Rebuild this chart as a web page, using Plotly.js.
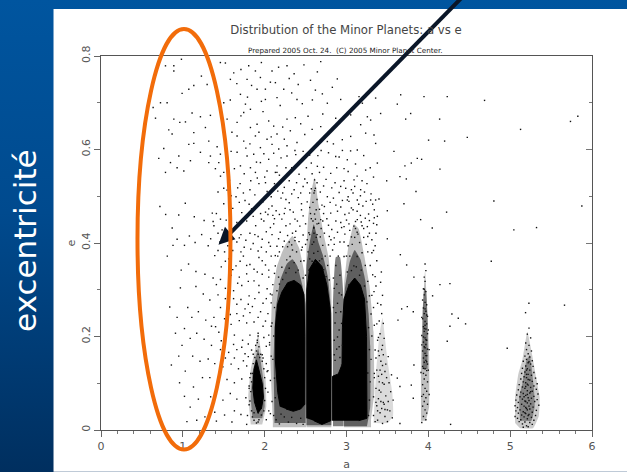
<!DOCTYPE html>
<html><head><meta charset="utf-8">
<script src="https://cdn.plot.ly/plotly-3.0.1.min.js"></script>
<style>
html,body{margin:0;padding:0;width:627px;height:472px;overflow:hidden;background:linear-gradient(180deg,#00559f 0%,#004a8e 45%,#002f5f 100%);}
#chart{width:627px;height:472px;}
</style></head><body><div id="chart"></div>
<script>
// Individually read minor planets, as a,e pairs
const sparsePts=[3.662,.717,3.947,.713,4.231,.713,4.687,.705,3.621,.697,3.784,.677,3.723,.665,4.138,.665,5.127,.643,5.737,.660,5.827,.671,4.476,.626,4.003,.620,4.199,.618,3.580,.596,3.865,.581,3.918,.579,3.792,.571,3.714,.565,4.142,.558,3.653,.542,3.731,.537,3.491,.533,3.849,.510,3.702,.484,4.801,.490,5.876,.479,4.223,.466,3.499,.469,3.906,.450,4.048,.432,5.045,.428,5.322,.433,3.499,.409,3.377,.457,3.356,.492,3.397,.494,3.658,.375,3.735,.353,4.769,.361,3.824,.327,3.426,.338,3.417,.316,4.142,.311,4.264,.313,4.052,.287,3.336,.296,5.229,.271,5.664,.267,5.188,.251,3.743,.264,3.674,.259,3.816,.253,4.288,.248,4.366,.239,3.629,.235,4.455,.227,4.264,.222,4.231,.190,4.964,.175,3.824,.139,3.621,.111,3.792,.096,3.653,.093,3.816,.068,3.653,.014,4.272,.012];
const upperPts=[.983,.793,.890,.779,.788,.779,.890,.768,1.227,.757,1.297,.739,1.134,.737,1.073,.729,.991,.720,.727,.700,.808,.700,.637,.690,.666,.667,.890,.665,.963,.658,1.032,.659,1.113,.678,1.215,.670,1.337,.673,1.276,.647,.828,.642,.869,.633,1.134,.636,.767,.602,.706,.581,.951,.586,1.073,.611,1.134,.613,1.317,.618,1.419,.606,1.459,.590,.849,.572,.930,.561,.788,.551,1.012,.554,1.093,.576,1.317,.572,1.398,.559,1.500,.551,1.215,.594,1.337,.586,1.439,.572,
1.459,.786,1.622,.764,1.805,.779,1.887,.768,2.090,.768,2.273,.779,1.581,.750,1.785,.750,1.948,.754,2.131,.743,1.704,.718,1.907,.729,2.009,.729,2.233,.729,1.500,.700,1.765,.697,1.826,.686,1.744,.679,2.009,.707,2.151,.711,2.395,.707,1.541,.665,1.663,.658,1.826,.647,1.907,.654,2.049,.661,2.110,.650,2.273,.665,2.375,.668,1.663,.629,1.744,.618,1.887,.629,2.029,.622,2.151,.633,2.314,.640,1.663,.594,1.785,.586,1.866,.590,1.948,.604,2.090,.611,2.172,.601,2.273,.608,2.395,.615,1.704,.565,1.826,.561,1.948,.572,2.049,.579,2.151,.565,2.273,.586,1.887,.551,2.029,.554,2.131,.551,
2.685,.788,2.644,.766,2.888,.751,2.827,.733,2.705,.719,2.583,.706,2.766,.699,2.929,.707,3.153,.713,3.356,.710,3.194,.699,3.417,.677,3.255,.670,3.051,.674,2.868,.667,2.685,.649,3.173,.653,3.295,.663,3.336,.631,3.234,.635,3.051,.628,2.949,.621,2.766,.617,2.644,.613,3.356,.613,3.132,.599,3.010,.578,3.377,.571,3.234,.556,3.092,.535,3.173,.514,3.295,.492,3.010,.492,3.132,.492,2.868,.585,2.807,.549,2.644,.564,2.929,.521,2.766,.499,2.603,.507,3.031,.464,3.132,.450,3.255,.435,2.970,.435,2.807,.464,2.685,.450,2.603,.421,
1.52,.785,1.71,.771,1.96,.786,2.17,.776,2.36,.762,2.48,.781,2.56,.748,2.41,.739,2.30,.752,2.07,.744,1.84,.737,1.66,.741,1.58,.706,1.79,.712,1.96,.703,2.19,.694,2.33,.721,2.46,.698,2.62,.727,2.71,.676,2.53,.671,2.44,.655,2.22,.648,1.98,.681,1.71,.672,1.60,.637,1.82,.612,1.93,.637,2.08,.627,2.24,.622,2.37,.598,2.49,.632,2.58,.643,2.69,.598,2.55,.588,2.43,.576,2.33,.561,2.20,.582,2.11,.592,1.99,.591,1.77,.603,1.59,.596,1.63,.559,1.75,.548,1.90,.573,2.00,.541,2.18,.545,2.30,.533,2.42,.547,2.51,.561,2.61,.535,2.72,.562,2.84,.612,2.91,.584,2.97,.559,3.05,.597,3.11,.569,3.21,.587,3.29,.561,3.33,.541,3.19,.533,3.06,.514,2.97,.533,2.86,.529,2.72,.522,2.57,.516,2.47,.521,2.36,.514,2.24,.519,2.12,.527,2.03,.510,1.93,.527,1.82,.514,1.70,.527,1.57,.534,1.46,.543,1.54,.513,1.65,.499,1.76,.491,1.88,.503,1.98,.488,2.08,.499,2.20,.496,2.30,.486,2.41,.497,2.52,.488,2.64,.493,2.73,.478,2.84,.496,2.93,.477,3.03,.489,3.08,.471,3.20,.479,3.27,.462,3.34,.471,3.23,.453,3.13,.468,2.98,.461,2.89,.468,2.76,.452,2.67,.472,2.56,.463,2.45,.471,2.35,.466,2.25,.474,2.14,.469,2.05,.473,1.95,.463,1.84,.473,1.72,.465,1.61,.474,1.50,.484,1.41,.463,1.53,.449,1.66,.444,1.78,.447,1.89,.437,1.99,.447,2.11,.441,2.21,.451,2.31,.441,2.40,.447,2.50,.441,2.59,.447,2.69,.431,2.78,.438,2.87,.447,2.94,.433,3.03,.441,3.11,.431,3.19,.437,3.28,.421,3.31,.407,3.21,.412,3.14,.419,3.06,.413,2.98,.419,2.89,.423,2.79,.414,2.73,.421,2.64,.418,2.54,.422,2.47,.417,2.38,.425,2.28,.416,2.19,.423,2.09,.418,2.02,.424,1.92,.414,1.82,.421,1.71,.418,1.59,.424,1.48,.428,1.38,.437,1.34,.409,1.45,.402,1.55,.394,1.66,.402,1.75,.391,1.86,.399,1.96,.391,2.05,.401,2.15,.393,2.24,.404,2.33,.396,2.42,.403,2.50,.397,2.85,.397,2.92,.402,3.02,.394,3.24,.397,3.33,.384,3.37,.362,3.29,.352,3.35,.328,3.31,.288,3.38,.271,
1.39,.373,1.47,.349,1.56,.366,1.65,.351,1.74,.372,1.82,.354,1.93,.369,2.01,.353,2.08,.372,2.13,.351,1.59,.331,1.69,.327,1.78,.334,1.87,.319,1.97,.333,2.05,.327,2.10,.311,1.41,.311,1.52,.303,1.62,.298,1.72,.309,1.81,.287,1.93,.294,2.02,.281,2.08,.272,1.55,.272,1.46,.262,1.66,.269,1.76,.259,1.85,.264,1.95,.253,2.04,.249,2.09,.229,1.38,.241,1.51,.238,1.59,.226,1.69,.234,1.78,.229,1.87,.231,1.98,.222,2.05,.203,1.44,.209,1.53,.197,1.63,.203,1.73,.192,1.82,.203,1.92,.201,2.02,.179,2.08,.158,1.35,.181,1.46,.172,1.56,.166,1.66,.172,1.76,.163,1.84,.171,2.02,.142,1.97,.161,2.07,.106,1.39,.142,1.49,.135,1.59,.141,1.68,.131,1.78,.137,1.83,.121,2.04,.081,2.09,.061,1.33,.112,1.43,.103,1.54,.108,1.63,.101,1.72,.109,1.81,.094,2.05,.041,1.34,.071,1.49,.064,1.58,.078,1.66,.066,1.77,.069,1.81,.054,2.02,.022,1.39,.038,1.51,.032,1.63,.041,1.71,.033,1.79,.031,1.60,.017,1.78,.012,
.95,.46,1.02,.395,1.08,.415,1.15,.401,1.23,.418,1.31,.394,1.14,.456,1.26,.448,1.36,.464,1.03,.485,.87,.432,.79,.461,.72,.478,.93,.408,.81,.372,.88,.395,.98,.342,1.07,.355,1.16,.339,1.27,.333,1.37,.325,1.43,.289,1.33,.278,1.25,.291,1.16,.307,1.06,.262,.97,.304,.84,.263,.93,.241,1.02,.217,1.11,.241,1.19,.253,1.28,.235,1.35,.222,1.26,.194,1.17,.207,1.09,.196,.99,.181,.91,.207,.86,.139,.95,.158,1.03,.126,1.12,.158,1.21,.147,1.31,.152,1.24,.112,1.13,.092,1.02,.072,.96,.101,1.09,.049,1.19,.066,1.27,.028,1.17,.021,1.41,.019,1.05,.018];
const densePts=[2.15,.551,2.26,.561,2.38,.589,2.47,.596,2.57,.571,2.65,.587,2.78,.593,2.88,.561,2.95,.598,3.02,.553,3.13,.543,3.25,.527,3.30,.505,3.22,.509,3.10,.521,3.02,.499,2.91,.508,2.82,.518,2.68,.509,2.62,.517,2.52,.529,2.44,.507,2.33,.505,2.26,.493,2.16,.511,2.09,.479,2.01,.466,1.93,.481,1.86,.457,1.81,.483,1.69,.487,1.58,.458,1.46,.451,1.37,.446,1.43,.421,1.53,.412,1.63,.427,1.69,.411,1.77,.406,1.88,.418,1.97,.408,2.07,.433,2.17,.409,2.26,.437,2.34,.421,2.43,.436,2.52,.407,2.60,.433,2.71,.447,2.82,.429,2.93,.444,3.00,.449,3.09,.436,3.17,.459,3.26,.414,3.21,.431,3.33,.442,2.04,.461,2.12,.452,2.24,.463,2.37,.451,2.47,.458,2.55,.476,2.62,.451,2.72,.463,2.80,.487,2.87,.481,2.95,.491,3.06,.475,3.15,.483,3.24,.489,3.32,.483,3.17,.501,3.08,.507,2.99,.517,2.75,.536,2.67,.551,2.58,.548,2.49,.537,2.39,.529,2.28,.546,2.22,.507,2.10,.513,2.01,.529,1.91,.539,1.83,.533,1.74,.507,1.67,.518,1.59,.501,1.50,.517,1.43,.509,1.96,.451,2.07,.393,2.18,.381,2.28,.392,2.37,.405,2.46,.391,2.13,.373,2.02,.381,1.92,.383,1.83,.387,1.71,.381,1.61,.384,1.51,.381,1.43,.384,1.52,.361,1.61,.343,1.70,.361,1.78,.352,1.87,.344,1.97,.362,2.05,.342,1.91,.338,1.80,.318,1.67,.314,1.57,.316,1.46,.322,1.52,.281,1.62,.281,1.71,.279,1.80,.269,1.88,.281,1.98,.271,2.03,.302,1.93,.309,2.07,.291,1.58,.247,1.66,.249,1.74,.244,1.82,.251,1.92,.241,2.01,.233,1.62,.183,1.72,.177,1.80,.184,1.91,.187,1.99,.198,2.06,.187,1.52,.154,1.63,.154,1.74,.148,1.80,.157,2.03,.125,1.47,.191,1.40,.221,3.26,.381,3.31,.379,3.35,.394,3.36,.421,3.28,.448,3.34,.454,3.37,.439,3.32,.332,3.36,.308,3.33,.262,3.37,.227,3.39,.198,2.85,.411,2.97,.402,3.04,.427,3.11,.446,3.18,.445,2.78,.396,2.81,.407,2.70,.481,2.64,.529,2.55,.507,2.45,.484,2.31,.471,2.18,.461,2.10,.459];
const fringePts=[2.12,.262,2.15,.298,2.11,.201,2.10,.151,2.12,.111,2.13,.069,2.11,.031,2.14,.022,2.18,.013,2.24,.028,2.29,.017,2.33,.027,2.39,.014,2.44,.025,2.47,.012,2.20,.034,2.17,.327,2.21,.348,2.26,.336,2.31,.371,2.36,.358,2.41,.342,2.44,.361,2.27,.364,2.22,.322,2.34,.385,2.47,.325,2.39,.381,2.18,.312,2.30,.346,2.38,.337,
2.53,.381,2.55,.418,2.57,.452,2.59,.487,2.61,.512,2.63,.471,2.66,.442,2.68,.413,2.71,.395,2.74,.372,2.77,.352,2.79,.321,2.60,.432,2.58,.397,2.63,.412,2.65,.382,2.55,.366,2.60,.378,2.70,.366,2.62,.358,2.72,.343,2.54,.342,2.67,.362,2.75,.328,2.58,.361,2.64,.441,2.61,.462,2.60,.402,
2.85,.303,2.87,.352,2.90,.372,2.92,.331,2.88,.312,2.94,.289,2.84,.262,2.89,.271,2.93,.253,2.86,.229,2.91,.214,2.85,.192,2.95,.181,2.88,.173,2.92,.155,2.86,.149,2.84,.325,2.91,.293,2.87,.251,2.94,.228,2.89,.199,2.85,.161,2.91,.178,2.94,.139,
3.01,.338,3.04,.372,3.07,.397,3.10,.412,3.13,.423,3.16,.401,3.19,.379,3.23,.352,3.26,.318,3.28,.287,3.30,.248,3.31,.201,3.30,.151,3.29,.103,3.28,.064,3.27,.031,3.09,.351,3.13,.371,3.18,.342,3.22,.308,3.25,.274,3.27,.219,3.28,.172,3.06,.341,3.03,.311,3.12,.349,3.16,.331,3.26,.122,
2.06,.182,2.04,.127,2.08,.222,2.07,.035,2.09,.289,2.12,.335,2.16,.372,2.22,.392,2.30,.402,2.37,.412,2.45,.385,2.48,.362,2.50,.331,2.83,.385,2.80,.372,2.97,.371,3.00,.372,3.34,.224,3.35,.171,3.34,.121];
const hungariaPts=[1.84,.041,1.82,.062,1.85,.028,1.87,.021,1.90,.015,1.93,.022,1.96,.032,1.99,.041,2.00,.063,2.01,.089,2.00,.112,1.99,.131,1.97,.147,1.95,.162,1.93,.178,1.91,.192,1.90,.169,1.88,.155,1.86,.142,1.85,.121,1.84,.103,1.83,.082,1.87,.037,1.92,.017,1.94,.155,1.92,.162,1.89,.181,1.92,.207,1.98,.154,1.86,.162,1.82,.112,1.81,.089];
const cybelePts=[3.33,.031,3.35,.018,3.37,.052,3.38,.021,3.41,.037,3.44,.014,3.47,.029,3.50,.018,3.53,.041,3.56,.026,3.33,.071,3.36,.089,3.39,.067,3.42,.081,3.45,.059,3.48,.073,3.51,.061,3.54,.082,3.57,.064,3.34,.112,3.37,.128,3.40,.103,3.43,.119,3.46,.098,3.49,.112,3.52,.101,3.55,.118,3.36,.154,3.39,.169,3.42,.147,3.45,.161,3.48,.141,3.51,.157,3.38,.192,3.41,.206,3.44,.181,3.46,.196,3.40,.233,3.43,.249,3.45,.228,3.42,.268,3.44,.288,3.38,.041,3.43,.046,3.47,.044,3.40,.085,3.44,.101,3.41,.128,3.47,.125,3.44,.138,3.40,.159,3.43,.172,3.46,.055,3.50,.043,3.36,.059,3.39,.115,3.42,.061];
const hildaPts=[3.96,.355,3.97,.341,3.95,.327,3.96,.318,3.94,.302,3.97,.296,3.95,.289,3.93,.278,3.96,.273,3.98,.268,3.94,.261,3.97,.254,3.95,.249,3.99,.243,3.93,.238,3.96,.232,3.98,.227,3.94,.221,3.97,.216,3.95,.211,3.99,.206,3.92,.202,3.96,.197,3.98,.192,3.94,.188,3.97,.183,3.95,.178,3.99,.173,3.93,.169,3.96,.164,3.98,.159,3.94,.154,3.97,.149,3.95,.145,3.99,.141,3.93,.136,3.96,.131,3.98,.127,3.94,.121,3.97,.117,3.95,.109,3.99,.103,3.93,.097,3.96,.089,3.98,.083,3.94,.076,3.97,.069,3.95,.061,3.99,.055,3.93,.051,3.96,.043,3.98,.036,3.94,.029,3.97,.022,3.92,.016,4.01,.076,4.00,.128,4.01,.172,4.00,.214,3.92,.241,3.92,.182,3.91,.123,3.92,.072,3.95,.301,3.96,.259,3.98,.246,3.94,.199,3.96,.176,3.98,.146,3.94,.132,3.97,.159,3.95,.217,3.96,.224,3.97,.193];
const trojanPts=[5.23,.218,5.21,.205,5.25,.197,5.19,.186,5.23,.181,5.20,.172,5.26,.169,5.22,.163,5.18,.158,5.24,.156,5.20,.151,5.27,.148,5.16,.147,5.22,.144,5.25,.141,5.19,.137,5.28,.136,5.15,.132,5.21,.131,5.24,.128,5.18,.124,5.29,.123,5.14,.121,5.22,.119,5.26,.117,5.17,.114,5.20,.112,5.31,.111,5.13,.109,5.24,.107,5.27,.104,5.16,.103,5.19,.101,5.33,.099,5.11,.097,5.22,.096,5.29,.094,5.15,.092,5.25,.091,5.18,.089,5.32,.087,5.10,.086,5.21,.084,5.27,.083,5.13,.081,5.24,.079,5.16,.078,5.34,.077,5.08,.075,5.19,.074,5.29,.072,5.12,.071,5.22,.069,5.26,.068,5.15,.066,5.33,.065,5.07,.064,5.18,.062,5.30,.061,5.10,.059,5.21,.058,5.25,.056,5.14,.055,5.35,.053,5.06,.052,5.17,.051,5.28,.049,5.09,.048,5.20,.046,5.24,.045,5.12,.043,5.32,.042,5.07,.041,5.16,.039,5.27,.038,5.10,.036,5.19,.035,5.23,.033,5.14,.032,5.31,.031,5.06,.029,5.17,.028,5.26,.027,5.09,.025,5.21,.024,5.13,.022,5.29,.021,5.11,.018,5.18,.017,5.24,.016,5.15,.013,5.27,.012,5.20,.009,5.22,.007,5.16,.006,5.20,.119,5.22,.108,5.19,.093,5.21,.076,5.19,.061,5.21,.043,5.18,.037,5.23,.063,5.17,.071,5.25,.082,5.20,.128,5.23,.146,5.21,.098,5.23,.051,5.19,.048,5.22,.031];

// Outlines of the solid black families [a, e]
const hungariaA=[1.92,1.875,1.855,1.87,1.90,1.93,1.97,1.985,1.96];
const hungariaE=[.035,.06,.09,.13,.15,.13,.10,.07,.045];
const innerBeltA=[2.19,2.16,2.13,2.13,2.16,2.21,2.28,2.36,2.44,2.48,2.49,2.49,2.44,2.35,2.26];
const innerBeltE=[.05,.08,.15,.22,.27,.295,.315,.32,.31,.29,.2,.055,.045,.04,.045];
const midBeltA=[2.515,2.515,2.55,2.62,2.70,2.76,2.80,2.81,2.81,2.7,2.6];
const midBeltE=[.025,.30,.345,.365,.35,.31,.26,.15,.02,.012,.02];
const outerBeltA=[2.83,2.83,2.90,2.945,2.95,2.97,3.03,3.10,3.17,3.22,3.245,3.25,3.25,3.15];
const outerBeltE=[.02,.115,.12,.14,.22,.28,.31,.325,.31,.28,.2,.1,.025,.02];

// Outlines of the speckled surroundings, outermost first [a, e]
const innerFarA=[2.10,2.10,2.07,2.09,2.15,2.25,2.34,2.42,2.48,2.505,2.505];
const innerFarE=[.006,.02,.15,.28,.35,.395,.415,.39,.34,.28,.006];
const innerFringeA=[2.12,2.12,2.11,2.13,2.19,2.27,2.34,2.40,2.46,2.50,2.50];
const innerFringeE=[.015,.03,.15,.25,.32,.355,.365,.35,.31,.27,.015];
const midFarA=[2.51,2.51,2.53,2.57,2.61,2.66,2.72,2.78,2.815,2.815];
const midFarE=[.006,.38,.45,.51,.54,.48,.42,.37,.30,.006];
const midFringeA=[2.51,2.51,2.55,2.60,2.66,2.71,2.77,2.815,2.815];
const midFringeE=[.01,.35,.40,.44,.40,.375,.33,.25,.01];
const gapColumnA=[2.835,2.835,2.87,2.92,2.965,2.965];
const gapColumnE=[.008,.27,.37,.37,.28,.008];
const outerFarA=[2.97,2.97,3.02,3.09,3.15,3.22,3.28,3.33,3.34,3.30,3.30];
const outerFarE=[.006,.31,.39,.44,.43,.37,.31,.21,.08,.02,.006];
const outerFringeA=[2.97,2.98,3.04,3.10,3.17,3.23,3.27,3.29,3.29,3.25];
const outerFringeE=[.008,.30,.36,.385,.365,.32,.25,.18,.05,.008];
const hungFarA=[1.83,1.80,1.83,1.88,1.92,1.96,2.01,2.02,1.97];
const hungFarE=[.012,.07,.13,.17,.205,.165,.11,.05,.012];
const hungFringeA=[1.85,1.83,1.85,1.89,1.92,1.95,1.99,2.00,1.97];
const hungFringeE=[.025,.07,.12,.155,.175,.15,.10,.05,.025];
const cybeleA=[3.33,3.36,3.40,3.44,3.50,3.56,3.57,3.50,3.35];
const cybeleE=[.015,.12,.20,.24,.15,.08,.03,.015,.015];
const hildaA=[3.91,3.91,3.93,3.96,3.99,4.01,4.01,3.97];
const hildaE=[.02,.14,.25,.34,.25,.16,.05,.02];
const hildaCoreA=[3.93,3.93,3.95,3.97,3.99,3.99];
const hildaCoreE=[.13,.24,.30,.30,.24,.13];
const trojanA=[5.06,5.06,5.10,5.15,5.21,5.27,5.32,5.36,5.35,5.28,5.12];
const trojanE=[.015,.07,.12,.15,.21,.16,.11,.07,.03,.004,.004];
const trojanCoreA=[5.12,5.11,5.15,5.20,5.24,5.29,5.30,5.26,5.15];
const trojanCoreE=[.02,.07,.10,.15,.16,.09,.05,.02,.02];

// Axis tick labels
const xTicks=[0,1,2,3,4,5,6];
const yTicks=[0,.2,.4,.6,.8];
const yTickLabels=['0','0.2','0.4','0.6','0.8'];
const titleText='Distribution of the Minor Planets: a vs e';
const subtitleText='Prepared 2005 Oct. 24.  (C) 2005 Minor Planet Center.';

const W=627,H=472,L=100.5,T=56,R=591.7,B=430.3;
const px=x=>(x-L)/(R-L), py=y=>(B-y)/(B-T);
const grey=(a,e,alpha)=>({x:a,y:e,type:'scatter',mode:'lines',line:{width:0,shape:'spline',smoothing:.35},fill:'toself',fillcolor:`rgba(0,0,0,${alpha})`,hoverinfo:'skip',showlegend:false});
const solid=(a,e)=>({x:a,y:e,type:'scatter',mode:'lines',line:{width:1,color:'#000'},fill:'toself',fillcolor:'#000',hoverinfo:'skip',showlegend:false});
const dots=(pairs)=>({x:pairs.filter((v,i)=>i%2===0),y:pairs.filter((v,i)=>i%2===1),type:'scatter',mode:'markers',marker:{symbol:'square',size:1.4,color:'#111',line:{width:0}},hoverinfo:'skip',showlegend:false});
const data=[
 grey(innerFarA,innerFarE,.25),grey(midFarA,midFarE,.25),grey(gapColumnA,gapColumnE,.5),grey(outerFarA,outerFarE,.25),
 grey(innerFringeA,innerFringeE,.5),grey(midFringeA,midFringeE,.5),grey(outerFringeA,outerFringeE,.5),
 grey(hungFarA,hungFarE,.2),grey(hungFringeA,hungFringeE,.4),grey(cybeleA,cybeleE,.14),
 grey(hildaA,hildaE,.25),grey(hildaCoreA,hildaCoreE,.4),grey(trojanA,trojanE,.2),grey(trojanCoreA,trojanCoreE,.35),
 solid(hungariaA,hungariaE),solid(innerBeltA,innerBeltE),solid(midBeltA,midBeltE),solid(outerBeltA,outerBeltE),
 dots(sparsePts),dots(upperPts),dots(densePts),dots(fringePts),dots(hungariaPts),dots(cybelePts),dots(hildaPts),dots(trojanPts),
 {x:[],y:[],yaxis:'y2',type:'scatter',showlegend:false}
];
const tf={family:'DejaVu Sans, sans-serif',size:11,color:'#555'};
const layout={width:W,height:H,autosize:false,showlegend:false,paper_bgcolor:'rgba(0,0,0,0)',plot_bgcolor:'rgba(0,0,0,0)',
 margin:{l:L,t:T,r:W-R,b:H-B,pad:0},
 title:{text:titleText,x:346/W,y:1-30/H,xanchor:'center',yanchor:'middle',font:{family:'DejaVu Sans, sans-serif',size:11.7,color:'#444'}},
 xaxis:{range:[0,6],tickvals:xTicks,ticktext:xTicks.map(String),ticks:'outside',ticklen:6,tickwidth:1,tickcolor:'#666',tickfont:tf,showgrid:false,zeroline:false,showline:true,linecolor:'#555',linewidth:1,mirror:true,
   minor:{dtick:.2,ticks:'outside',ticklen:3,tickcolor:'#777',showgrid:false},title:{text:'a',font:tf,standoff:8}},
 yaxis:{range:[0,.8],tickvals:yTicks,ticktext:yTickLabels,tickangle:-90,ticks:'outside',ticklen:6,tickwidth:1,tickcolor:'#666',tickfont:tf,showgrid:false,zeroline:false,showline:true,linecolor:'#555',linewidth:1,
   minor:{dtick:.1,ticks:'outside',ticklen:3,tickcolor:'#777',showgrid:false},title:{text:'e',font:tf,standoff:1}},
 yaxis2:{range:[0,.8],overlaying:'y',side:'right',anchor:'x',tickvals:yTicks,ticks:'inside',ticklen:6,tickcolor:'#777',showticklabels:false,showgrid:false,zeroline:false,showline:true,linecolor:'#555',
   minor:{dtick:.1,ticks:'inside',ticklen:3,tickcolor:'#777',showgrid:false}},
 shapes:[
  {type:'rect',layer:'below',xref:'paper',yref:'paper',x0:px(53),x1:px(627),y0:py(472),y1:py(9),fillcolor:'#fff',line:{width:0}},
  {type:'line',layer:'above',xref:'paper',yref:'paper',x0:px(461),y0:py(-2),x1:px(229),y1:py(234),line:{color:'#0a1628',width:4}},
  {type:'path',layer:'above',xref:'paper',yref:'paper',path:`M ${px(218)} ${py(245)} L ${px(224.5)} ${py(227)} L ${px(235)} ${py(239.5)} Z`,fillcolor:'#0a1628',line:{width:0}},
  {type:'circle',layer:'above',xref:'paper',yref:'paper',x0:px(137),x1:px(230),y0:py(449.7),y1:py(29),line:{color:'#f26c0a',width:4},fillcolor:'rgba(0,0,0,0)'}
 ],
 annotations:[
  {text:subtitleText,xref:'paper',yref:'paper',x:px(345.5),y:py(50),xanchor:'center',yanchor:'middle',showarrow:false,font:{family:'DejaVu Sans, sans-serif',size:7.2,color:'#222'}},
  {text:'excentricité',xref:'paper',yref:'paper',x:px(25),y:py(240.5),xanchor:'center',yanchor:'middle',textangle:-90,showarrow:false,font:{family:'DejaVu Sans, sans-serif',size:31,color:'#fff'}}
 ]
};
Plotly.newPlot('chart',data,layout,{displayModeBar:false,staticPlot:true});
</script></body></html>
